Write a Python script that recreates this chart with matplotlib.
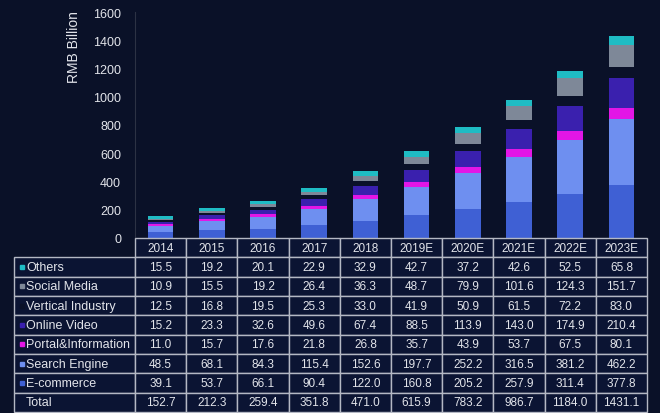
import matplotlib.pyplot as plt
import numpy as np

years = ['2014', '2015', '2016', '2017', '2018', '2019E', '2020E', '2021E', '2022E', '2023E']

# segments listed bottom to top of each stack
segments = ['E-commerce', 'Search Engine', 'Portal&Information', 'Online Video',
            'Vertical Industry', 'Social Media', 'Others']
ecommerce = [39.1, 53.7, 66.1, 90.4, 122.0, 160.8, 205.2, 257.9, 311.4, 377.8]
search_engine = [48.5, 68.1, 84.3, 115.4, 152.6, 197.7, 252.2, 316.5, 381.2, 462.2]
portal_info = [11.0, 15.7, 17.6, 21.8, 26.8, 35.7, 43.9, 53.7, 67.5, 80.1]
online_video = [15.2, 23.3, 32.6, 49.6, 67.4, 88.5, 113.9, 143.0, 174.9, 210.4]
vertical_industry = [12.5, 16.8, 19.5, 25.3, 33.0, 41.9, 50.9, 61.5, 72.2, 83.0]
social_media = [10.9, 15.5, 19.2, 26.4, 36.3, 48.7, 79.9, 101.6, 124.3, 151.7]
others = [15.5, 19.2, 20.1, 22.9, 32.9, 42.7, 37.2, 42.6, 52.5, 65.8]
totals = [152.7, 212.3, 259.4, 351.8, 471.0, 615.9, 783.2, 986.7, 1184.0, 1431.1]

bg = '#0a1128'
txt = '#e2e4ea'
colors = ['#3f60d4', '#6e8ff0', '#e316e6', '#3a20ae', bg, '#7e8898', '#1fbcc4']
series = [ecommerce, search_engine, portal_info, online_video,
          vertical_industry, social_media, others]

plt.rcParams['font.family'] = ['Liberation Sans', 'DejaVu Sans']

fig = plt.figure(figsize=(6.6, 4.14), dpi=100, facecolor=bg)
ax = fig.add_axes([135 / 660, 175 / 414, 512 / 660, 226 / 414], facecolor=bg)

x = np.arange(len(years))
bottom = np.zeros(len(years))
for vals, c in zip(series, colors):
    ax.bar(x, vals, 0.5, bottom=bottom, color=c, linewidth=0)
    bottom += np.array(vals)

ax.set_xlim(-0.5, len(years) - 0.5)
ax.set_ylim(0, 1600)
ax.set_yticks(np.arange(0, 1601, 200))
ax.set_xticks([])
ax.tick_params(axis='y', length=0, colors=txt, labelsize=9, pad=10)
for s in ['top', 'right', 'bottom']:
    ax.spines[s].set_visible(False)
ax.spines['left'].set_color('#2c3244')
ax.text(-0.119, 1.01, 'RMB Billion', rotation=90, va='top', ha='center',
        color=txt, fontsize=10, transform=ax.transAxes)

# data table under the bars, top row first
tax = fig.add_axes([14 / 660, 1 / 414, 633 / 660, 174 / 414])
tax.axis('off')
rows_top_down = list(zip(segments, series, colors))[::-1]
cell_text = [[name] + ['%.1f' % v for v in vals] for name, vals, _ in rows_top_down]
cell_text.append(['Total'] + ['%.1f' % v for v in totals])
col_w = [121 / 633] + [51.2 / 633] * len(years)
tbl = tax.table(cellText=cell_text, colLabels=[''] + years, colWidths=col_w,
                bbox=[0, 0, 1, 1], cellLoc='center')
tbl.auto_set_font_size(False)
tbl.set_fontsize(8.5)
for (r, c), cell in tbl.get_celld().items():
    cell.set_facecolor('#0b1433')
    cell.set_edgecolor('#b4b8c4')
    cell.set_linewidth(1.0)
    cell.get_text().set_color(txt)
    if c == 0:
        cell.get_text().set_ha('left')
        cell.get_text().set_fontsize(9)
        cell._loc = 'left'
        cell.PAD = 0.1
    if r == 0 and c == 0:
        cell.visible_edges = ''
        cell.set_facecolor(bg)

# small colour keys in front of the segment names
n_rows = len(cell_text) + 1
for i, (_, _, c) in enumerate(rows_top_down):
    yc = 1 - (i + 1.5) / n_rows
    tax.plot(7.5 / 633, yc, marker='s', markersize=3.5, color=c,
             transform=tax.transAxes, clip_on=False)

fig.savefig('out.png', dpi=100, facecolor=bg)
